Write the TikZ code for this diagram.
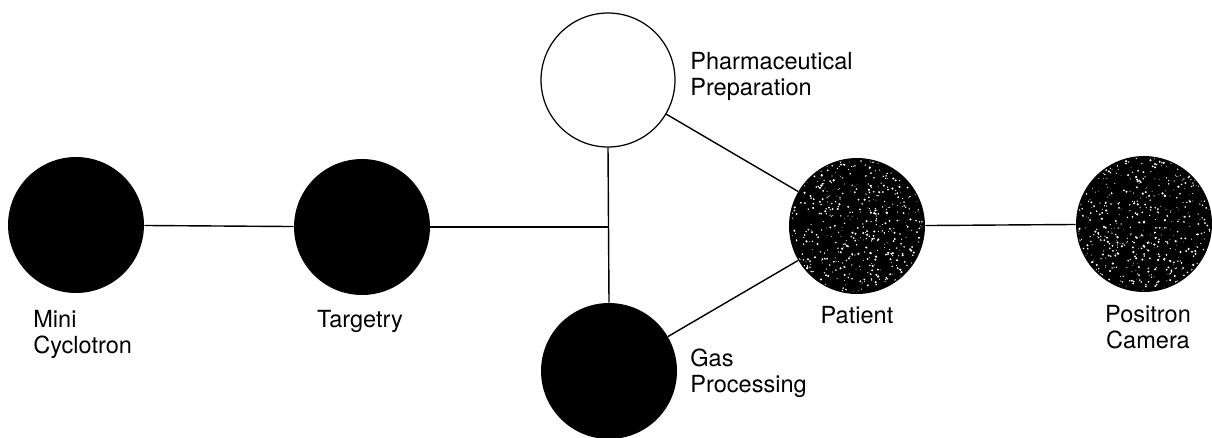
\documentclass[tikz,border=0pt]{standalone}
\usepackage{fontspec}
\setmainfont{TeX Gyre Heros}
\usepackage{tikz}
\usetikzlibrary{positioning,calc}

\begin{document}
\begin{tikzpicture}[
    x=0.02cm, y=-0.02cm,
    stage/.style={circle, fill=black, inner sep=0pt, minimum size=2.72cm},
    openstage/.style={circle, draw, fill=white, line width=0.7pt, inner sep=0pt, minimum size=2.68cm},
    link/.style={line width=0.8pt},
    lbl/.style={font=\fontsize{13.4}{14.4}\selectfont, inner sep=0pt}
]
\useasboundingbox (0,0) rectangle (1212,437);

% --- Stations ---
\node[stage]     (cyc)   at (76,225)   {};
\node[stage]     (tgt)   at (362,227)  {};
\node[openstage] (pharm) at (608,80)   {};
\node[stage]     (gas)   at (609,371)  {};
\node[stage]     (pat)   at (857,226)  {};
\node[stage]     (cam)   at (1144,224) {};
\coordinate (jn) at (608,227);

% --- Speckle on Patient and Camera ---
\pgfmathsetseed{11}
\foreach \c in {pat,cam} {
  \begin{scope}
    \clip (\c) circle (1.33cm);
    \foreach \i in {1,...,600}
      \fill[white, shift={(\c)}] ({68*rand},{68*rand}) circle ({(0.2+0.5*rnd)*1pt});
  \end{scope}
}

% --- Connectors ---
\draw[link] (cyc) -- (tgt);
\draw[link] (tgt) -- (jn);
\draw[link] (pharm.south) -- (gas.north);
\draw[link] (pharm) -- (pat);
\draw[link] (gas) -- (pat);
\draw[link] (pat) -- (cam);

% --- Labels (multi-line: base = last line) ---
\node[lbl, anchor=base west, align=left]   (cyclbl)   at (33,353)   {Mini\\Cyclotron};
\node[lbl, anchor=base]                    (tgtlbl)   at (360,327)  {Targetry};
\node[lbl, anchor=base west, align=left]   (pharmlbl) at (690,95)   {Pharmaceutical\\Preparation};
\node[lbl, anchor=base west, align=left]   (gaslbl)   at (690,392)  {Gas\\Processing};
\node[lbl, anchor=base]                    (patlbl)   at (857,323)  {Patient};
\node[lbl, anchor=base, align=center]      (camlbl)   at (1148,348) {Positron\\Camera};
\end{tikzpicture}
\end{document}
